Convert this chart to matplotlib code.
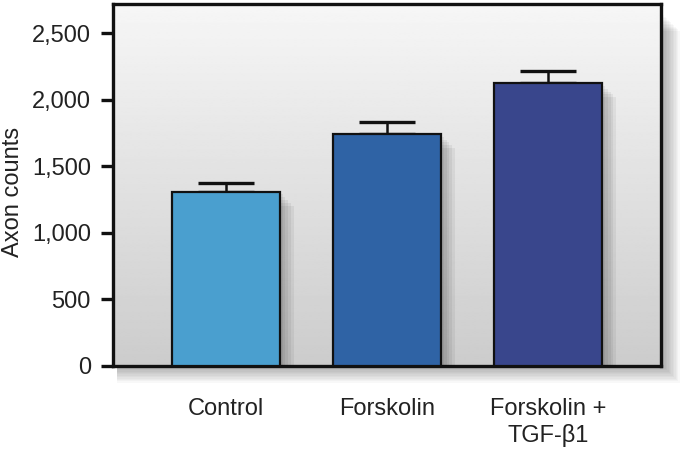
import numpy as np
import matplotlib
matplotlib.use("Agg")
import matplotlib.pyplot as plt
import matplotlib.patheffects as pe
from matplotlib.patches import Rectangle

categories = ["Control", "Forskolin", "Forskolin +\nTGF-β1"]
values = [1310, 1742, 2125]
errors = [68, 92, 95]
colors = ["#4A9FCF", "#2F63A5", "#39468C"]
yticks = [0, 500, 1000, 1500, 2000, 2500]
ytick_labels = ["0", "500", "1,000", "1,500", "2,000", "2,500"]

plt.rcParams['font.family'] = ['Liberation Sans', 'DejaVu Sans']

fig = plt.figure(figsize=(6.84, 4.49), dpi=100)
fig.patch.set_facecolor("white")
L, R, B, T = 113/684, 661/684, 1-366/449, 1-4/449
ax = fig.add_axes([L, B, R-L, T-B])

# blurred shadow of the axes box (figure coords)
for i in range(12):
    d = (i+1) * 1.4
    fig.patches.append(Rectangle((L + 4/684, B - d/449), (R - L) + (d-2)/684, (T - B) - 10/449,
                                 transform=fig.transFigure, facecolor="black",
                                 alpha=0.028, edgecolor="none", zorder=-10))

xlim = (-0.70, 2.70)
ylim = (0, 2720)
# background gradient
grad = np.linspace(0.80, 0.965, 256).reshape(-1, 1)
ax.imshow(grad, extent=[xlim[0], xlim[1], ylim[0], ylim[1]], origin="lower",
          cmap="gray", vmin=0, vmax=1, aspect="auto", zorder=0, interpolation="bilinear")

x = np.arange(len(categories))
shadow = [pe.SimplePatchShadow(offset=(o, -o), shadow_rgbFace="black", alpha=0.055) for o in (2, 4, 6, 8, 10)]
bars = ax.bar(x, values, width=0.67, color=colors, edgecolor="#111111", linewidth=1.6, zorder=3)
for b in bars:
    b.set_path_effects(shadow + [pe.Normal()])

ax.errorbar(x, values, yerr=[[0]*len(values), errors], fmt="none", ecolor="#111111",
            elinewidth=1.8, capsize=20, capthick=2.4, zorder=2)

ax.set_xlim(*xlim)
ax.set_ylim(*ylim)
ax.set_yticks(yticks)
ax.set_yticklabels(ytick_labels, fontsize=17, color="#222222")
ax.set_xticks(x)
ax.set_xticklabels(categories, fontsize=17, color="#222222", linespacing=1.2)
ax.tick_params(axis="y", direction="out", length=9, width=2.4, pad=7, color="#111111")
ax.tick_params(axis="x", length=0, pad=23)
for s in ax.spines.values():
    s.set_linewidth(2.4)
    s.set_color("#111111")
ax.set_ylabel("Axon counts", fontsize=17, color="#222222")
ax.yaxis.set_label_coords(-0.163, 0.48)

fig.savefig("out.png", dpi=100)
